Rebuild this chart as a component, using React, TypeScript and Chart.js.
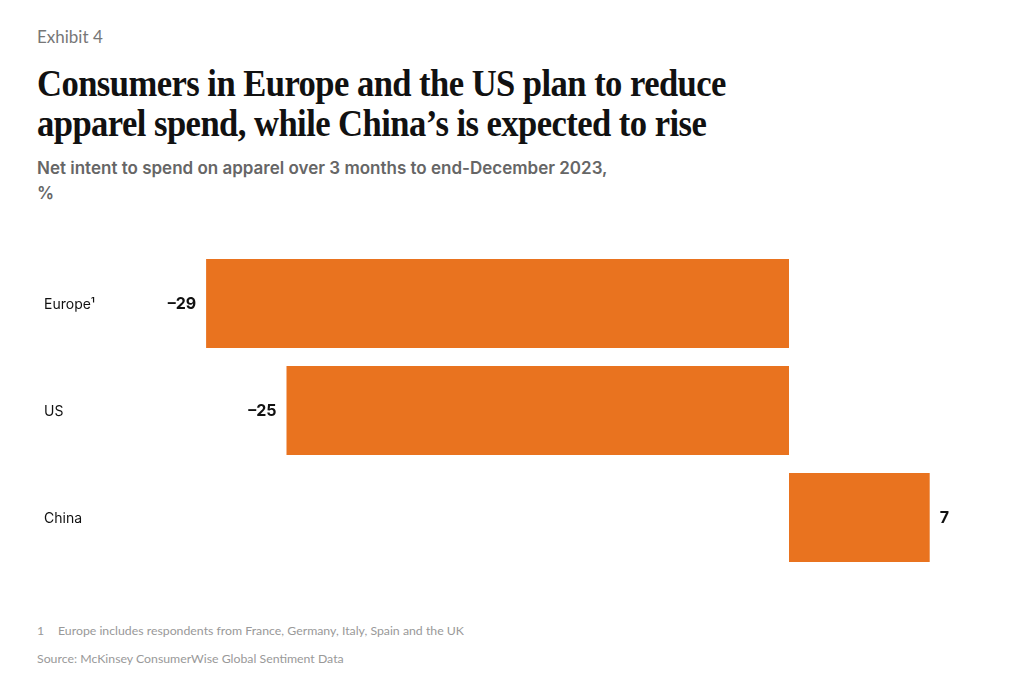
import React, { useEffect, useRef } from "react";
import { Chart, registerables } from "chart.js";

Chart.register(...registerables);

const categories = ["Europe¹", "US", "China"];
const values = [-29, -25, 7];
const valueLabels = ["–29", "–25", "7"];
const BAR_COLOR = "#E9731F";

const SANS = "Inter, 'Noto Sans', Roboto, sans-serif";
const LIGHT_SANS = "Lato, 'Open Sans', sans-serif";

const labelPlugin = {
  id: "labelPlugin",
  afterDatasetsDraw(chart: any) {
    const ctx = chart.ctx;
    const meta = chart.getDatasetMeta(0);
    const yScale = chart.scales.y;
    ctx.save();
    ctx.textBaseline = "middle";
    ctx.font = `400 14px ${SANS}`;
    ctx.fillStyle = "#111";
    ctx.textAlign = "left";
    categories.forEach((c, i) => {
      ctx.fillText(c, chart.chartArea.left - 142, yScale.getPixelForValue(i) + 1);
    });
    ctx.font = `700 16px ${SANS}`;
    meta.data.forEach((bar: any, i: number) => {
      const v = values[i];
      if (v < 0) {
        ctx.textAlign = "right";
        ctx.fillText(valueLabels[i], bar.x - 10, bar.y + 1);
      } else {
        ctx.textAlign = "left";
        ctx.fillText(valueLabels[i], bar.x + 10, bar.y + 1);
      }
    });
    ctx.restore();
  },
};

export default function App() {
  const ref = useRef<HTMLCanvasElement>(null);
  useEffect(() => {
    if (!ref.current) return;
    const chart = new Chart(ref.current, {
      type: "bar",
      data: {
        labels: categories,
        datasets: [
          {
            data: values,
            backgroundColor: BAR_COLOR,
            borderWidth: 0,
            barPercentage: 0.83,
            categoryPercentage: 1.0,
          },
        ],
      },
      options: {
        indexAxis: "y",
        animation: false,
        responsive: false,
        devicePixelRatio: 1,
        layout: { padding: { left: 186, right: 34, top: 20, bottom: 19 } },
        plugins: { legend: { display: false }, tooltip: { enabled: false } },
        scales: {
          x: { display: false, min: -30, max: 10 },
          y: { display: false, offset: true },
        },
      },
      plugins: [labelPlugin],
    });
    return () => chart.destroy();
  }, []);

  return (
    <div
      style={{
        position: "fixed",
        left: 0,
        top: 0,
        width: 1024,
        height: 675,
        background: "#fff",
        overflow: "hidden",
      }}
    >
      <div
        style={{
          position: "absolute",
          left: 37,
          top: 26,
          fontFamily: LIGHT_SANS,
          fontSize: 17,
          color: "#777",
          fontWeight: 400,
        }}
      >
        Exhibit 4
      </div>
      <div
        style={{
          position: "absolute",
          left: 37,
          top: 63,
          fontFamily: "'Liberation Serif', 'DejaVu Serif', serif",
          fontWeight: 700,
          fontSize: 38,
          lineHeight: "40px",
          color: "#111",
          letterSpacing: -0.6,
          whiteSpace: "nowrap",
          transform: "scaleX(0.91)",
          transformOrigin: "left top",
        }}
      >
        Consumers in Europe and the US plan to reduce
        <br />
        apparel spend, while China’s is expected to rise
      </div>
      <div
        style={{
          position: "absolute",
          left: 37,
          top: 156,
          fontFamily: SANS,
          fontWeight: 600,
          fontSize: 17,
          lineHeight: "25px",
          color: "#666",
          whiteSpace: "nowrap",
        }}
      >
        Net intent to spend on apparel over 3 months to end-December 2023,
        <br />%
      </div>
      <canvas
        ref={ref}
        width={1024}
        height={360}
        style={{ position: "absolute", left: 0, top: 230, width: 1024, height: 360 }}
      />
      <div
        style={{
          position: "absolute",
          left: 37,
          top: 623,
          fontFamily: LIGHT_SANS,
          fontSize: 12.3,
          color: "#999",
          whiteSpace: "nowrap",
        }}
      >
        <span style={{ display: "inline-block", width: 21 }}>1</span>
        Europe includes respondents from France, Germany, Italy, Spain and the UK
      </div>
      <div
        style={{
          position: "absolute",
          left: 37,
          top: 651,
          fontFamily: LIGHT_SANS,
          fontSize: 12.3,
          color: "#999",
          whiteSpace: "nowrap",
        }}
      >
        Source: McKinsey ConsumerWise Global Sentiment Data
      </div>
    </div>
  );
}
